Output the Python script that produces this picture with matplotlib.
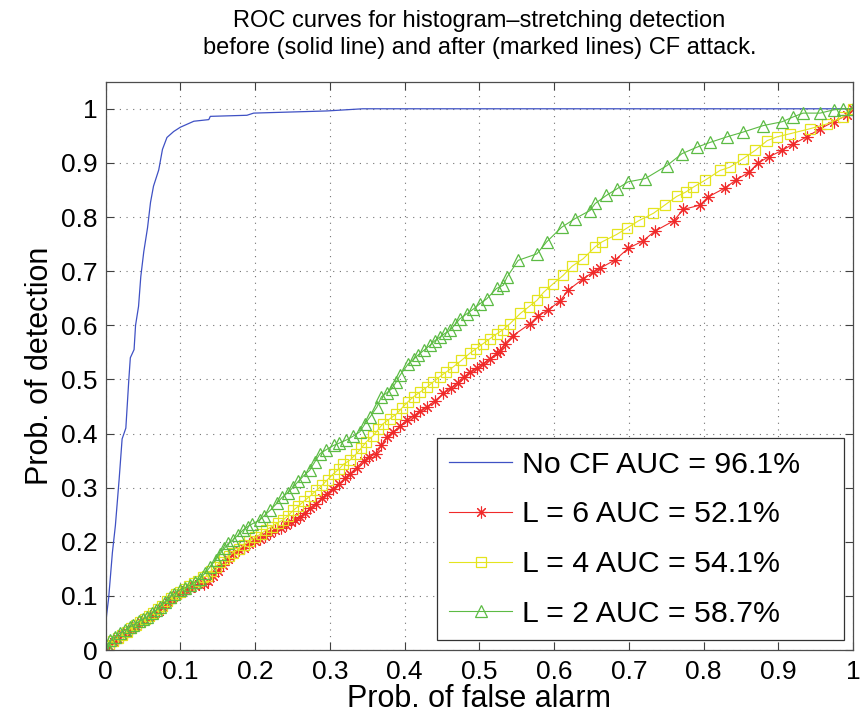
# roc_cf_attack.py
# ROC curves for histogram-stretching detection, before and after CF attack.

import matplotlib
matplotlib.use("Agg")
import matplotlib.pyplot as plt

plt.rcParams["font.family"] = ["Liberation Sans", "DejaVu Sans"]

# ---- data ----
no_cf_pfa = [0.0, 0.0, 0.004, 0.009, 0.013, 0.018, 0.022, 0.027, 0.031, 0.033,
             0.038, 0.040, 0.044, 0.047, 0.051, 0.056, 0.060, 0.064, 0.071, 0.076,
             0.082, 0.091, 0.100, 0.118, 0.138, 0.140, 0.189, 0.198, 0.296, 0.344,
             0.500, 1.0]
no_cf_pd = [0.0, 0.050, 0.096, 0.180, 0.230, 0.315, 0.390, 0.410, 0.500, 0.540,
            0.555, 0.600, 0.635, 0.690, 0.736, 0.780, 0.827, 0.857, 0.887, 0.925,
            0.947, 0.958, 0.966, 0.977, 0.980, 0.986, 0.988, 0.992, 0.996, 1.0,
            1.0, 1.0]

l6_pfa = [0.0, 0.005, 0.011, 0.017, 0.023, 0.029, 0.035, 0.041, 0.047, 0.053,
          0.059, 0.065, 0.071, 0.077, 0.083, 0.089, 0.095, 0.101, 0.107, 0.113,
          0.119, 0.125, 0.131, 0.137, 0.143, 0.150, 0.157, 0.164, 0.171, 0.178,
          0.185, 0.192, 0.200, 0.206, 0.213, 0.220, 0.227, 0.234, 0.241, 0.248,
          0.254, 0.260, 0.267, 0.274, 0.281, 0.289, 0.296, 0.304, 0.312, 0.320,
          0.327, 0.336, 0.345, 0.353, 0.362, 0.369, 0.376, 0.385, 0.394, 0.403,
          0.412, 0.421, 0.430, 0.441, 0.452, 0.462, 0.471, 0.479, 0.488, 0.497,
          0.505, 0.514, 0.523, 0.528, 0.534, 0.545, 0.568, 0.579, 0.592, 0.608,
          0.619, 0.639, 0.652, 0.661, 0.682, 0.699, 0.719, 0.735, 0.760, 0.773,
          0.795, 0.806, 0.829, 0.844, 0.861, 0.873, 0.887, 0.905, 0.920, 0.938,
          0.956, 0.974, 0.992, 1.0]
l6_pd = [0.0, 0.007, 0.014, 0.020, 0.027, 0.033, 0.039, 0.045, 0.051, 0.056,
         0.061, 0.067, 0.073, 0.080, 0.088, 0.095, 0.101, 0.106, 0.110, 0.114,
         0.118, 0.122, 0.122, 0.128, 0.136, 0.146, 0.158, 0.168, 0.178, 0.184,
         0.189, 0.195, 0.201, 0.206, 0.211, 0.216, 0.221, 0.226, 0.231, 0.237,
         0.241, 0.246, 0.254, 0.262, 0.270, 0.280, 0.289, 0.298, 0.307, 0.317,
         0.326, 0.337, 0.350, 0.357, 0.363, 0.378, 0.394, 0.403, 0.414, 0.425,
         0.433, 0.441, 0.449, 0.461, 0.474, 0.484, 0.494, 0.505, 0.513, 0.521,
         0.529, 0.538, 0.548, 0.553, 0.566, 0.581, 0.603, 0.618, 0.628, 0.645,
         0.665, 0.686, 0.698, 0.705, 0.721, 0.742, 0.756, 0.774, 0.793, 0.814,
         0.822, 0.837, 0.854, 0.869, 0.883, 0.900, 0.911, 0.923, 0.935, 0.948,
         0.963, 0.976, 0.988, 1.0]

l4_pfa = [0.0, 0.004, 0.010, 0.016, 0.022, 0.028, 0.034, 0.040, 0.046, 0.052,
          0.058, 0.064, 0.070, 0.076, 0.082, 0.088, 0.094, 0.100, 0.106, 0.112,
          0.118, 0.124, 0.130, 0.135, 0.141, 0.147, 0.153, 0.159, 0.165, 0.171,
          0.178, 0.185, 0.192, 0.200, 0.208, 0.215, 0.222, 0.230, 0.237, 0.244,
          0.251, 0.258, 0.266, 0.274, 0.282, 0.290, 0.297, 0.305, 0.312, 0.318,
          0.327, 0.335, 0.342, 0.349, 0.358, 0.365, 0.371, 0.380, 0.389, 0.397,
          0.404, 0.412, 0.421, 0.430, 0.438, 0.447, 0.456, 0.465, 0.476, 0.487,
          0.496, 0.505, 0.514, 0.523, 0.532, 0.541, 0.555, 0.566, 0.577, 0.586,
          0.599, 0.612, 0.624, 0.639, 0.655, 0.664, 0.684, 0.698, 0.713, 0.733,
          0.748, 0.764, 0.776, 0.786, 0.802, 0.822, 0.835, 0.853, 0.869, 0.885,
          0.898, 0.916, 0.942, 0.965, 0.987, 1.0]
l4_pd = [0.0, 0.008, 0.016, 0.022, 0.028, 0.034, 0.040, 0.046, 0.052, 0.057,
         0.062, 0.068, 0.075, 0.082, 0.090, 0.097, 0.103, 0.108, 0.113, 0.118,
         0.123, 0.128, 0.134, 0.137, 0.146, 0.154, 0.162, 0.168, 0.174, 0.180,
         0.186, 0.194, 0.201, 0.208, 0.215, 0.222, 0.228, 0.235, 0.240, 0.248,
         0.258, 0.266, 0.276, 0.285, 0.295, 0.305, 0.315, 0.326, 0.334, 0.343,
         0.351, 0.362, 0.373, 0.385, 0.396, 0.408, 0.418, 0.427, 0.436, 0.448,
         0.458, 0.468, 0.477, 0.486, 0.495, 0.505, 0.514, 0.523, 0.535, 0.548,
         0.557, 0.566, 0.575, 0.584, 0.592, 0.603, 0.622, 0.634, 0.646, 0.661,
         0.677, 0.692, 0.709, 0.723, 0.745, 0.754, 0.768, 0.780, 0.793, 0.807,
         0.822, 0.838, 0.846, 0.855, 0.868, 0.886, 0.892, 0.908, 0.923, 0.941,
         0.948, 0.954, 0.963, 0.972, 0.985, 1.0]

l2_pfa = [0.0, 0.003, 0.006, 0.012, 0.019, 0.026, 0.032, 0.037, 0.045, 0.050,
          0.055, 0.062, 0.068, 0.073, 0.080, 0.086, 0.092, 0.099, 0.106, 0.113,
          0.120, 0.126, 0.133, 0.140, 0.147, 0.153, 0.159, 0.164, 0.170, 0.177,
          0.184, 0.190, 0.196, 0.206, 0.212, 0.220, 0.229, 0.236, 0.244, 0.251,
          0.258, 0.265, 0.273, 0.280, 0.287, 0.295, 0.305, 0.312, 0.322, 0.331,
          0.340, 0.347, 0.354, 0.363, 0.369, 0.376, 0.383, 0.389, 0.394, 0.405,
          0.412, 0.418, 0.426, 0.434, 0.440, 0.447, 0.454, 0.461, 0.468, 0.474,
          0.483, 0.492, 0.501, 0.510, 0.523, 0.532, 0.537, 0.552, 0.577, 0.590,
          0.610, 0.628, 0.648, 0.655, 0.670, 0.684, 0.699, 0.722, 0.751, 0.771,
          0.791, 0.809, 0.831, 0.853, 0.880, 0.905, 0.920, 0.933, 0.956, 0.974,
          0.987, 1.0]
l2_pd = [0.0, 0.003, 0.018, 0.024, 0.031, 0.037, 0.042, 0.046, 0.053, 0.057,
         0.061, 0.068, 0.074, 0.080, 0.089, 0.098, 0.104, 0.111, 0.115, 0.120,
         0.126, 0.132, 0.142, 0.154, 0.166, 0.178, 0.188, 0.197, 0.203, 0.212,
         0.222, 0.228, 0.233, 0.240, 0.248, 0.258, 0.271, 0.282, 0.291, 0.301,
         0.312, 0.322, 0.332, 0.348, 0.363, 0.370, 0.378, 0.382, 0.388, 0.395,
         0.403, 0.418, 0.431, 0.449, 0.468, 0.475, 0.483, 0.496, 0.508, 0.529,
         0.537, 0.545, 0.554, 0.563, 0.571, 0.578, 0.585, 0.591, 0.602, 0.612,
         0.621, 0.630, 0.640, 0.649, 0.668, 0.674, 0.689, 0.720, 0.732, 0.754,
         0.781, 0.797, 0.812, 0.825, 0.840, 0.852, 0.865, 0.871, 0.895, 0.917,
         0.929, 0.938, 0.948, 0.957, 0.969, 0.976, 0.985, 0.992, 0.992, 0.998,
         1.0, 1.0]

tick_values = [0.0, 0.1, 0.2, 0.3, 0.4, 0.5, 0.6, 0.7, 0.8, 0.9, 1.0]
tick_labels = ["0", "0.1", "0.2", "0.3", "0.4", "0.5", "0.6", "0.7", "0.8", "0.9", "1"]

legend_labels = ["No CF AUC = 96.1%", "L = 6 AUC = 52.1%",
                 "L = 4 AUC = 54.1%", "L = 2 AUC = 58.7%"]

fig = plt.figure(figsize=(8.64, 7.2), dpi=100)
ax = fig.add_axes([0.1223, 0.0972, 0.8650, 0.7893])

ax.plot(no_cf_pfa, no_cf_pd, color="#3f51c4", linewidth=0.9,
        label=legend_labels[0])
ax.plot(l6_pfa, l6_pd, color="#f02a2a", linewidth=0.8,
        marker=(8, 2, 0), markersize=8.5, markeredgewidth=0.8,
        label=legend_labels[1])
ax.plot(l4_pfa, l4_pd, color="#e4e41e", linewidth=0.8,
        marker="s", markersize=7.5, markerfacecolor="none",
        markeredgewidth=0.9, label=legend_labels[2])
ax.plot(l2_pfa, l2_pd, color="#5cbb44", linewidth=0.8,
        marker="^", markersize=9, markerfacecolor="none",
        markeredgewidth=0.9, label=legend_labels[3])

ax.set_xlim(0, 1)
ax.set_ylim(0, 1.05)
ax.set_xticks(tick_values)
ax.set_xticklabels(tick_labels)
ax.set_yticks(tick_values)
ax.set_yticklabels(tick_labels)

ax.tick_params(direction="in", length=5.5, width=0.8, color="0.25",
               top=True, right=True, labelsize=19)
ax.tick_params(axis="x", pad=7)
ax.tick_params(axis="y", pad=6)
for spine in ax.spines.values():
    spine.set_color("0.3")
    spine.set_linewidth(0.9)

ax.grid(True, color="0.45", linestyle=(0, (1, 5)), linewidth=0.8)

ax.set_xlabel("Prob. of false alarm", fontsize=22, labelpad=0)
ax.set_ylabel("Prob. of detection", fontsize=22, labelpad=4)
ax.set_title("ROC curves for histogram\u2013stretching detection\n"
             "before (solid line) and after (marked lines) CF attack.",
             fontsize=17, linespacing=1.3, pad=20)

# legend box stretched to the reference width (extra room on the right)
leg = ax.legend(loc="lower left", bbox_to_anchor=(0.443, 0.0176, 0.545, 0.3),
                mode="expand", borderaxespad=0, fontsize=21.8, fancybox=False,
                framealpha=1, edgecolor="0.2", handlelength=2.1,
                handletextpad=0.3, labelspacing=0.72, borderpad=0.4,
                numpoints=1)
leg.get_frame().set_linewidth(0.9)

fig.savefig("out.png", dpi=100)
